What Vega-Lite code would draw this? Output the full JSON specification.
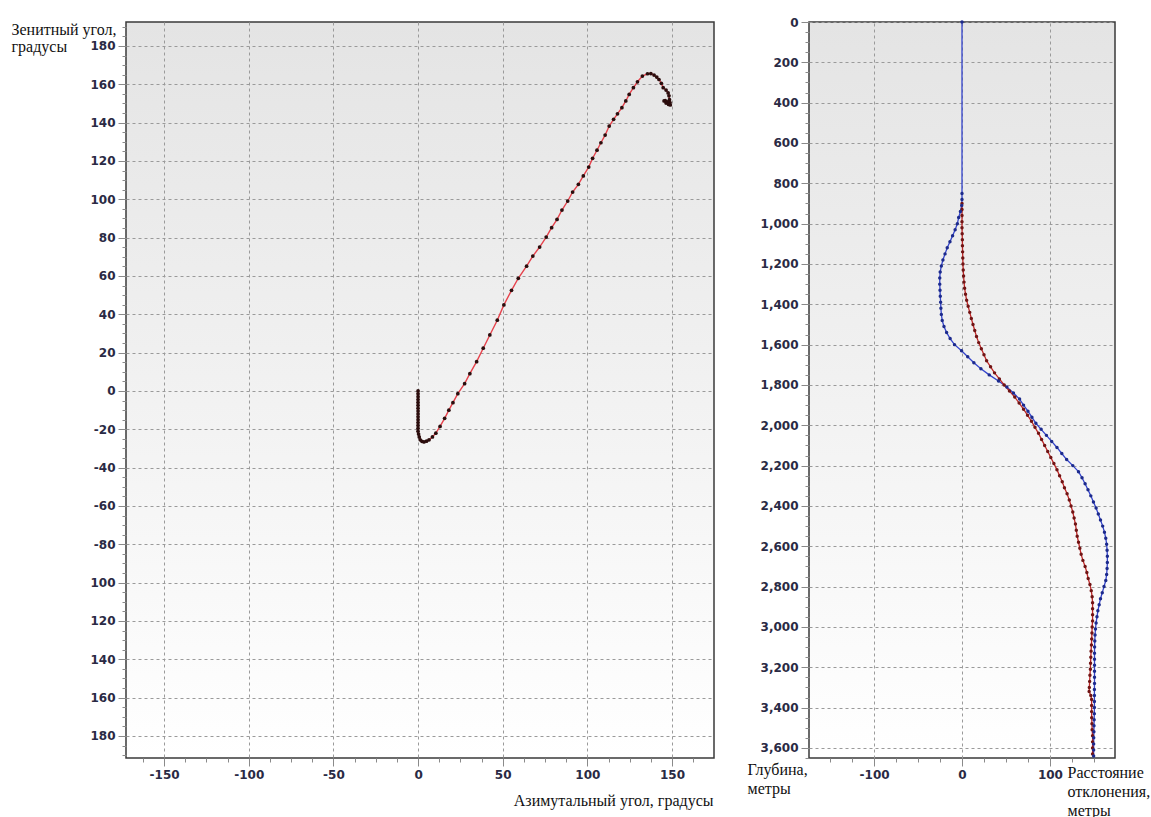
{
  "$schema": "https://vega.github.io/schema/vega-lite/v6.json",
  "padding": {"left": 10, "top": 15, "right": 0, "bottom": 0},
  "background": "white",
  "spacing": 31,
  "config": {
    "view": {"stroke": "#3a3a3a", "strokeWidth": 1.5},
    "axis": {
      "labelFont": "DejaVu Sans", "labelFontWeight": "bold", "labelFontSize": 12, "labelColor": "#2a2a44",
      "titleFont": "Liberation Serif", "titleFontWeight": "normal", "titleFontSize": 16, "titleColor": "#111111",
      "gridColor": "#9a9a9a", "gridDash": [3, 3], "tickColor": "#8a8a8a", "domain": false,
      "labelOverlap": false, "labelFlush": false, "labelPadding": 3, "titleAngle": 0, "titlePadding": 0
    }
  },
  "hconcat": [
    {
      "width": 588, "height": 736,
      "view": {"fill": {"gradient": "linear", "x1": 0, "y1": 0, "x2": 0, "y2": 1, "stops": [{"offset": 0, "color": "#e4e4e4"}, {"offset": 1, "color": "#ffffff"}]}},
      "data": {"values": [
        {"az": 0, "zen": 0}, {"az": 0, "zen": -1.5}, {"az": 0, "zen": -3}, {"az": 0, "zen": -4.5}, {"az": 0, "zen": -6},
        {"az": 0, "zen": -7.5}, {"az": 0, "zen": -9}, {"az": 0, "zen": -10.5}, {"az": 0, "zen": -12}, {"az": 0, "zen": -13.5},
        {"az": 0, "zen": -15}, {"az": 0, "zen": -16.5}, {"az": 0, "zen": -18}, {"az": 0, "zen": -19.5}, {"az": 0, "zen": -21},
        {"az": 0.3, "zen": -22.5}, {"az": 0.7, "zen": -24}, {"az": 1.3, "zen": -25.5}, {"az": 2.3, "zen": -26.3}, {"az": 3.5, "zen": -26.6},
        {"az": 5, "zen": -26.2}, {"az": 6.5, "zen": -25.5}, {"az": 8.5, "zen": -24}, {"az": 10.5, "zen": -22}, {"az": 13, "zen": -18.5},
        {"az": 15.7, "zen": -14.3}, {"az": 18.2, "zen": -10}, {"az": 20.6, "zen": -6.1}, {"az": 23.5, "zen": -1.4}, {"az": 27.5, "zen": 3.8},
        {"az": 30.6, "zen": 9}, {"az": 34.6, "zen": 15.3}, {"az": 38.5, "zen": 22.3}, {"az": 42.4, "zen": 29.2}, {"az": 46.8, "zen": 36.9},
        {"az": 50.7, "zen": 44.9}, {"az": 55.2, "zen": 52.5}, {"az": 59.2, "zen": 58.8}, {"az": 64.1, "zen": 65.1}, {"az": 67.8, "zen": 70.4},
        {"az": 71.8, "zen": 75.1}, {"az": 75.7, "zen": 80.3}, {"az": 78.9, "zen": 85.2}, {"az": 82.1, "zen": 89.5}, {"az": 85, "zen": 94.4},
        {"az": 88.4, "zen": 99.1}, {"az": 91.3, "zen": 103.8}, {"az": 94.7, "zen": 107.8}, {"az": 97.6, "zen": 112.2}, {"az": 100.8, "zen": 116.8},
        {"az": 103.1, "zen": 121.4}, {"az": 105.7, "zen": 125.6}, {"az": 108, "zen": 129.5}, {"az": 110.5, "zen": 133.5}, {"az": 112.9, "zen": 138.2},
        {"az": 115.5, "zen": 141.7}, {"az": 117.8, "zen": 144.6}, {"az": 120.4, "zen": 147.8}, {"az": 122.7, "zen": 151.3}, {"az": 124.7, "zen": 154.7},
        {"az": 127.2, "zen": 158.2}, {"az": 129.6, "zen": 161.3}, {"az": 132.5, "zen": 164.3}, {"az": 135.5, "zen": 165.5}, {"az": 137.5, "zen": 165.6},
        {"az": 139.4, "zen": 164.8}, {"az": 141, "zen": 163.8}, {"az": 142.3, "zen": 162.5}, {"az": 143.7, "zen": 160.5}, {"az": 144.8, "zen": 158.2},
        {"az": 146.5, "zen": 157}, {"az": 147.7, "zen": 155.5}, {"az": 148.2, "zen": 154}, {"az": 148.5, "zen": 152}, {"az": 148.8, "zen": 150.5},
        {"az": 147.5, "zen": 150.8}, {"az": 146, "zen": 151.5}, {"az": 145.3, "zen": 151.3}, {"az": 146.5, "zen": 150.2}, {"az": 148, "zen": 149.5},
        {"az": 149, "zen": 149.2}
      ]},
      "transform": [{"window": [{"op": "row_number", "as": "i"}]}],
      "encoding": {
        "x": {"field": "az", "type": "quantitative",
          "scale": {"domain": [-172.5, 174.8], "nice": false, "zero": false},
          "axis": {
            "values": [-162.5, -150, -137.5, -125, -112.5, -100, -87.5, -75, -62.5, -50, -37.5, -25, -12.5, 0, 12.5, 25, 37.5, 50, 62.5, 75, 87.5, 100, 112.5, 125, 137.5, 150, 162.5],
            "labelExpr": "datum.value % 50 === 0 ? '' + datum.value : ''",
            "gridOpacity": {"condition": {"test": "datum.value % 50 === 0", "value": 1}, "value": 0},
            "tickSize": {"condition": {"test": "datum.value % 50 === 0", "value": 8}, "value": 4},
            "title": "Азимутальный угол, градусы", "titleX": 587, "titleY": 47, "titleAlign": "right", "titleBaseline": "alphabetic"
          }},
        "y": {"field": "zen", "type": "quantitative",
          "scale": {"domain": [-191.5, 192.5], "nice": false, "zero": false},
          "axis": {
            "values": [-190, -185, -180, -175, -170, -165, -160, -155, -150, -145, -140, -135, -130, -125, -120, -115, -110, -105, -100, -95, -90, -85, -80, -75, -70, -65, -60, -55, -50, -45, -40, -35, -30, -25, -20, -15, -10, -5, 0, 5, 10, 15, 20, 25, 30, 35, 40, 45, 50, 55, 60, 65, 70, 75, 80, 85, 90, 95, 100, 105, 110, 115, 120, 125, 130, 135, 140, 145, 150, 155, 160, 165, 170, 175, 180, 185, 190],
            "labelExpr": "datum.value % 20 !== 0 ? '' : '' + (datum.value < -80 ? -datum.value : datum.value)",
            "gridOpacity": {"condition": {"test": "datum.value % 20 === 0", "value": 1}, "value": 0},
            "tickSize": {"condition": {"test": "datum.value % 20 === 0", "value": 8}, "value": 4},
            "title": ["Зенитный угол,", "градусы"], "titleX": -115, "titleY": 12, "titleAlign": "left", "titleBaseline": "alphabetic", "titleLineHeight": 17
          }}
      },
      "layer": [
        {"mark": {"type": "line", "color": "#e6424c", "strokeWidth": 1.4}, "encoding": {"order": {"field": "i", "type": "quantitative"}}},
        {"mark": {"type": "circle", "color": "#2b0d0d", "size": 14, "opacity": 1}, "encoding": {}}
      ]
    },
    {
      "width": 306, "height": 736,
      "view": {"fill": {"gradient": "linear", "x1": 0, "y1": 0, "x2": 0, "y2": 1, "stops": [{"offset": 0, "color": "#e4e4e4"}, {"offset": 1, "color": "#ffffff"}]}},
      "data": {"values": [
        {"s": "b", "depth": 0, "dev": 0}, {"s": "b", "depth": 850, "dev": 0}, {"s": "b", "depth": 880, "dev": 0}, {"s": "b", "depth": 910, "dev": -0.3},
        {"s": "b", "depth": 940, "dev": -1.8}, {"s": "b", "depth": 970, "dev": -3.8}, {"s": "b", "depth": 1000, "dev": -5.3}, {"s": "b", "depth": 1030, "dev": -7.8},
        {"s": "b", "depth": 1060, "dev": -10.7}, {"s": "b", "depth": 1090, "dev": -13.7}, {"s": "b", "depth": 1120, "dev": -16.8}, {"s": "b", "depth": 1150, "dev": -19.3},
        {"s": "b", "depth": 1180, "dev": -21.7}, {"s": "b", "depth": 1210, "dev": -23.5}, {"s": "b", "depth": 1240, "dev": -24.8}, {"s": "b", "depth": 1270, "dev": -25.3},
        {"s": "b", "depth": 1300, "dev": -25.3}, {"s": "b", "depth": 1330, "dev": -25}, {"s": "b", "depth": 1360, "dev": -24.7}, {"s": "b", "depth": 1390, "dev": -24.3},
        {"s": "b", "depth": 1420, "dev": -24}, {"s": "b", "depth": 1450, "dev": -23.5}, {"s": "b", "depth": 1480, "dev": -22.5}, {"s": "b", "depth": 1510, "dev": -20.5},
        {"s": "b", "depth": 1540, "dev": -17.5}, {"s": "b", "depth": 1570, "dev": -13.5}, {"s": "b", "depth": 1600, "dev": -8.5}, {"s": "b", "depth": 1630, "dev": -0.5},
        {"s": "b", "depth": 1660, "dev": 6.5}, {"s": "b", "depth": 1690, "dev": 13.5}, {"s": "b", "depth": 1720, "dev": 21.5}, {"s": "b", "depth": 1750, "dev": 31},
        {"s": "b", "depth": 1780, "dev": 41.5}, {"s": "b", "depth": 1810, "dev": 51}, {"s": "b", "depth": 1840, "dev": 58.5}, {"s": "b", "depth": 1870, "dev": 65.5},
        {"s": "b", "depth": 1900, "dev": 70}, {"s": "b", "depth": 1930, "dev": 75}, {"s": "b", "depth": 1960, "dev": 79.5}, {"s": "b", "depth": 1990, "dev": 84},
        {"s": "b", "depth": 2020, "dev": 90}, {"s": "b", "depth": 2050, "dev": 96}, {"s": "b", "depth": 2080, "dev": 102}, {"s": "b", "depth": 2110, "dev": 108},
        {"s": "b", "depth": 2140, "dev": 113.5}, {"s": "b", "depth": 2170, "dev": 119}, {"s": "b", "depth": 2200, "dev": 126}, {"s": "b", "depth": 2230, "dev": 132.5},
        {"s": "b", "depth": 2260, "dev": 136.5}, {"s": "b", "depth": 2290, "dev": 140}, {"s": "b", "depth": 2320, "dev": 143.3}, {"s": "b", "depth": 2350, "dev": 146.5},
        {"s": "b", "depth": 2380, "dev": 149.5}, {"s": "b", "depth": 2410, "dev": 152.5}, {"s": "b", "depth": 2440, "dev": 155}, {"s": "b", "depth": 2470, "dev": 157.5},
        {"s": "b", "depth": 2500, "dev": 160}, {"s": "b", "depth": 2530, "dev": 162}, {"s": "b", "depth": 2560, "dev": 163.5}, {"s": "b", "depth": 2590, "dev": 164.5},
        {"s": "b", "depth": 2620, "dev": 165}, {"s": "b", "depth": 2650, "dev": 165.3}, {"s": "b", "depth": 2680, "dev": 165.3}, {"s": "b", "depth": 2710, "dev": 165},
        {"s": "b", "depth": 2740, "dev": 164.5}, {"s": "b", "depth": 2770, "dev": 163.5}, {"s": "b", "depth": 2800, "dev": 161.5}, {"s": "b", "depth": 2830, "dev": 159.5},
        {"s": "b", "depth": 2860, "dev": 157.5}, {"s": "b", "depth": 2890, "dev": 156}, {"s": "b", "depth": 2920, "dev": 154.5}, {"s": "b", "depth": 2950, "dev": 153.5},
        {"s": "b", "depth": 2980, "dev": 152.5}, {"s": "b", "depth": 3010, "dev": 151.8}, {"s": "b", "depth": 3040, "dev": 151.3}, {"s": "b", "depth": 3070, "dev": 151},
        {"s": "b", "depth": 3100, "dev": 150.8}, {"s": "b", "depth": 3130, "dev": 150.7}, {"s": "b", "depth": 3160, "dev": 150.7}, {"s": "b", "depth": 3190, "dev": 150.7},
        {"s": "b", "depth": 3220, "dev": 150.7}, {"s": "b", "depth": 3250, "dev": 150.7}, {"s": "b", "depth": 3280, "dev": 150.7}, {"s": "b", "depth": 3310, "dev": 150.6},
        {"s": "b", "depth": 3340, "dev": 150.6}, {"s": "b", "depth": 3370, "dev": 150.6}, {"s": "b", "depth": 3400, "dev": 150.6}, {"s": "b", "depth": 3430, "dev": 150.5},
        {"s": "b", "depth": 3460, "dev": 150.3}, {"s": "b", "depth": 3490, "dev": 150.1}, {"s": "b", "depth": 3520, "dev": 150}, {"s": "b", "depth": 3550, "dev": 149.8},
        {"s": "b", "depth": 3580, "dev": 149.7}, {"s": "b", "depth": 3610, "dev": 149.7}, {"s": "b", "depth": 3640, "dev": 149.7},
        {"s": "r", "depth": 900, "dev": 0}, {"s": "r", "depth": 930, "dev": 0}, {"s": "r", "depth": 960, "dev": 0}, {"s": "r", "depth": 990, "dev": 0},
        {"s": "r", "depth": 1020, "dev": 0}, {"s": "r", "depth": 1050, "dev": 0.2}, {"s": "r", "depth": 1080, "dev": 0.4}, {"s": "r", "depth": 1110, "dev": 0.5},
        {"s": "r", "depth": 1140, "dev": 0.7}, {"s": "r", "depth": 1170, "dev": 0.9}, {"s": "r", "depth": 1200, "dev": 1.1}, {"s": "r", "depth": 1230, "dev": 1.4},
        {"s": "r", "depth": 1260, "dev": 1.8}, {"s": "r", "depth": 1290, "dev": 2.3}, {"s": "r", "depth": 1320, "dev": 3}, {"s": "r", "depth": 1350, "dev": 4},
        {"s": "r", "depth": 1380, "dev": 5.3}, {"s": "r", "depth": 1410, "dev": 7}, {"s": "r", "depth": 1440, "dev": 8.8}, {"s": "r", "depth": 1470, "dev": 10.6},
        {"s": "r", "depth": 1500, "dev": 12.5}, {"s": "r", "depth": 1530, "dev": 14.5}, {"s": "r", "depth": 1560, "dev": 16.5}, {"s": "r", "depth": 1590, "dev": 19},
        {"s": "r", "depth": 1620, "dev": 22}, {"s": "r", "depth": 1650, "dev": 25}, {"s": "r", "depth": 1680, "dev": 28}, {"s": "r", "depth": 1710, "dev": 32.5},
        {"s": "r", "depth": 1740, "dev": 37}, {"s": "r", "depth": 1770, "dev": 42.5}, {"s": "r", "depth": 1800, "dev": 48}, {"s": "r", "depth": 1830, "dev": 54},
        {"s": "r", "depth": 1860, "dev": 60}, {"s": "r", "depth": 1890, "dev": 65}, {"s": "r", "depth": 1920, "dev": 70}, {"s": "r", "depth": 1950, "dev": 74.5},
        {"s": "r", "depth": 1980, "dev": 79}, {"s": "r", "depth": 2010, "dev": 83}, {"s": "r", "depth": 2040, "dev": 87}, {"s": "r", "depth": 2070, "dev": 90.5},
        {"s": "r", "depth": 2100, "dev": 94}, {"s": "r", "depth": 2130, "dev": 97.5}, {"s": "r", "depth": 2160, "dev": 101}, {"s": "r", "depth": 2190, "dev": 104.5},
        {"s": "r", "depth": 2220, "dev": 108}, {"s": "r", "depth": 2250, "dev": 111}, {"s": "r", "depth": 2280, "dev": 114}, {"s": "r", "depth": 2310, "dev": 116.5},
        {"s": "r", "depth": 2340, "dev": 119.5}, {"s": "r", "depth": 2370, "dev": 122}, {"s": "r", "depth": 2400, "dev": 124}, {"s": "r", "depth": 2430, "dev": 126},
        {"s": "r", "depth": 2460, "dev": 127.5}, {"s": "r", "depth": 2490, "dev": 129}, {"s": "r", "depth": 2520, "dev": 130}, {"s": "r", "depth": 2550, "dev": 131},
        {"s": "r", "depth": 2580, "dev": 132.5}, {"s": "r", "depth": 2610, "dev": 134}, {"s": "r", "depth": 2640, "dev": 135.5}, {"s": "r", "depth": 2670, "dev": 137.5},
        {"s": "r", "depth": 2700, "dev": 140}, {"s": "r", "depth": 2730, "dev": 142}, {"s": "r", "depth": 2760, "dev": 143.5}, {"s": "r", "depth": 2790, "dev": 145.5},
        {"s": "r", "depth": 2820, "dev": 147}, {"s": "r", "depth": 2850, "dev": 148}, {"s": "r", "depth": 2880, "dev": 148.5}, {"s": "r", "depth": 2910, "dev": 148.5},
        {"s": "r", "depth": 2940, "dev": 148.5}, {"s": "r", "depth": 2970, "dev": 148.5}, {"s": "r", "depth": 3000, "dev": 148}, {"s": "r", "depth": 3030, "dev": 147.8},
        {"s": "r", "depth": 3060, "dev": 147.5}, {"s": "r", "depth": 3090, "dev": 147.2}, {"s": "r", "depth": 3120, "dev": 146.8}, {"s": "r", "depth": 3150, "dev": 146.5},
        {"s": "r", "depth": 3180, "dev": 146.2}, {"s": "r", "depth": 3210, "dev": 146}, {"s": "r", "depth": 3240, "dev": 145.5}, {"s": "r", "depth": 3270, "dev": 145.2},
        {"s": "r", "depth": 3300, "dev": 144.8}, {"s": "r", "depth": 3320, "dev": 144.6}, {"s": "r", "depth": 3340, "dev": 146.5}, {"s": "r", "depth": 3360, "dev": 147.4},
        {"s": "r", "depth": 3390, "dev": 147.4}, {"s": "r", "depth": 3420, "dev": 147.4}, {"s": "r", "depth": 3450, "dev": 147.5}, {"s": "r", "depth": 3480, "dev": 147.8},
        {"s": "r", "depth": 3510, "dev": 148}, {"s": "r", "depth": 3540, "dev": 148.5}, {"s": "r", "depth": 3570, "dev": 148.5}, {"s": "r", "depth": 3600, "dev": 148.5},
        {"s": "r", "depth": 3630, "dev": 148.5}
      ]},
      "encoding": {
        "x": {"field": "dev", "type": "quantitative",
          "scale": {"domain": [-174, 174], "nice": false, "zero": false},
          "axis": {
            "values": [-150, -125, -100, -75, -50, -25, 0, 25, 50, 75, 100, 125, 150],
            "labelExpr": "datum.value % 100 === 0 ? '' + datum.value : ''",
            "gridOpacity": {"condition": {"test": "datum.value % 100 === 0", "value": 1}, "value": 0},
            "tickSize": {"condition": {"test": "datum.value % 100 === 0", "value": 8}, "value": 4},
            "title": ["Расстояние", "отклонения,", "метры"], "titleX": 258, "titleY": 19.5, "titleAlign": "left", "titleBaseline": "alphabetic", "titleLineHeight": 19
          }},
        "y": {"field": "depth", "type": "quantitative",
          "scale": {"domain": [0, 3650], "reverse": true, "nice": false, "zero": false},
          "axis": {
            "values": [0, 50, 100, 150, 200, 250, 300, 350, 400, 450, 500, 550, 600, 650, 700, 750, 800, 850, 900, 950, 1000, 1050, 1100, 1150, 1200, 1250, 1300, 1350, 1400, 1450, 1500, 1550, 1600, 1650, 1700, 1750, 1800, 1850, 1900, 1950, 2000, 2050, 2100, 2150, 2200, 2250, 2300, 2350, 2400, 2450, 2500, 2550, 2600, 2650, 2700, 2750, 2800, 2850, 2900, 2950, 3000, 3050, 3100, 3150, 3200, 3250, 3300, 3350, 3400, 3450, 3500, 3550, 3600, 3650],
            "labelExpr": "datum.value % 200 === 0 ? format(datum.value, ',') : ''",
            "gridOpacity": {"condition": {"test": "datum.value % 200 === 0", "value": 1}, "value": 0},
            "tickSize": {"condition": {"test": "datum.value % 200 === 0", "value": 8}, "value": 4},
            "title": ["Глубина,", "метры"], "titleX": -62, "titleY": 752.5, "titleAlign": "left", "titleBaseline": "alphabetic", "titleLineHeight": 19
          }},
        "order": {"field": "depth", "type": "quantitative"}
      },
      "layer": [
        {"mark": {"type": "line", "strokeWidth": 1.3},
          "encoding": {"stroke": {"field": "s", "type": "nominal", "scale": {"domain": ["b", "r"], "range": ["#3444cc", "#c02828"]}, "legend": null}}},
        {"mark": {"type": "circle", "size": 12, "opacity": 1},
          "encoding": {"fill": {"field": "s", "type": "nominal", "scale": {"domain": ["b", "r"], "range": ["#1c2a8c", "#701414"]}, "legend": null}}}
      ]
    }
  ]
}
